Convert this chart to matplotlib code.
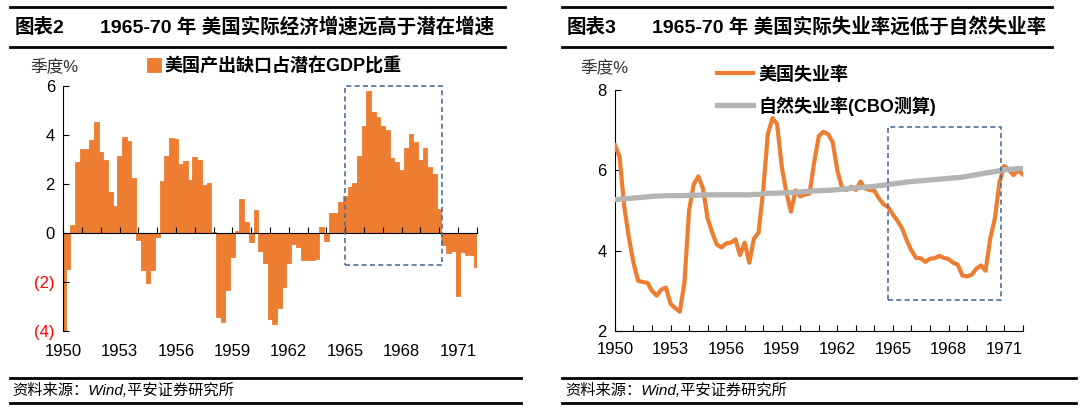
import numpy as np
import matplotlib.pyplot as plt
from matplotlib.lines import Line2D
from matplotlib.patches import Rectangle

plt.rcParams['font.family'] = ['Liberation Sans', 'Noto Sans CJK SC']

# quarterly, 1950Q1 .. 1972Q1
gap = [
    -4.0, -1.46, 0.31, 2.9,
    3.41, 3.41, 3.78, 4.5,
    3.3, 2.97, 1.67, 1.09,
    3.13, 3.92, 3.74, 2.24,
    -0.27, -1.52, -2.03, -1.52,
    -0.16, 2.12, 3.14, 3.88,
    3.81, 2.79, 2.93, 2.15,
    3.10, 2.97, 1.95, 2.05,
    0.03, -3.43, -3.65, -2.34,
    -0.98, 0.07, 1.40, 0.43,
    -0.38, 0.95, -0.72, -1.23,
    -3.5, -3.72, -3.06, -2.2,
    -1.22, -0.44, -0.57, -1.1,
    -1.12, -1.1, -1.08, 0.25,
    -0.34, 0.83, 0.83, 1.27,
    1.5, 1.88, 2.05, 3.13,
    4.37, 5.8, 4.94, 4.71,
    4.37, 4.19, 3.07, 2.9,
    2.58, 3.44, 4.05, 3.71,
    2.97, 3.47, 2.69, 2.39,
    0.99, -0.5, -0.82, -0.75,
    -2.58, -0.76, -0.91, -0.9,
    -1.41,
]

unemp = [
    6.63, 6.33, 5.1, 4.33,
    3.7, 3.25, 3.22, 3.2,
    3.0, 2.88, 3.03, 3.08,
    2.68, 2.57, 2.48, 3.2,
    5.0, 5.65, 5.85, 5.55,
    4.8, 4.45, 4.15, 4.08,
    4.18, 4.2, 4.28, 3.89,
    4.2, 3.7, 4.3, 4.45,
    5.5, 6.9, 7.3, 7.15,
    6.1, 5.45, 4.97, 5.5,
    5.35, 5.4, 5.42, 6.2,
    6.85, 6.96, 6.9, 6.7,
    6.0, 5.57, 5.51, 5.59,
    5.51, 5.72, 5.55, 5.51,
    5.49, 5.3, 5.15, 5.08,
    4.9, 4.74, 4.55, 4.25,
    4.0, 3.82, 3.81, 3.72,
    3.8, 3.81, 3.87, 3.82,
    3.79, 3.7, 3.65, 3.38,
    3.36, 3.4, 3.55, 3.63,
    3.5, 4.3, 4.8, 5.7,
    6.11, 6.02, 5.88, 6.0,
    5.9,
]

nairu = [
    5.27, 5.28, 5.29, 5.30,
    5.31, 5.32, 5.33, 5.34,
    5.35, 5.36, 5.36, 5.37,
    5.37, 5.37, 5.37, 5.37,
    5.38, 5.38, 5.38, 5.39,
    5.39, 5.39, 5.39, 5.39,
    5.39, 5.39, 5.39, 5.39,
    5.39, 5.39, 5.40, 5.40,
    5.42, 5.43, 5.43, 5.43,
    5.44, 5.44, 5.45, 5.45,
    5.46, 5.47, 5.48, 5.49,
    5.49, 5.50, 5.50, 5.51,
    5.52, 5.53, 5.54, 5.55,
    5.56, 5.57, 5.58, 5.59,
    5.60, 5.62, 5.63, 5.65,
    5.66, 5.68, 5.69, 5.71,
    5.72, 5.73, 5.74, 5.75,
    5.76, 5.77, 5.78, 5.79,
    5.80, 5.81, 5.82, 5.83,
    5.85, 5.87, 5.89, 5.91,
    5.93, 5.95, 5.97, 5.99,
    6.01, 6.02, 6.03, 6.04,
    6.05,
]

t = 1950 + np.arange(len(gap)) / 4
year_ticks = list(range(1950, 1973))
year_labels = [str(y) if (y - 1950) % 3 == 0 else '' for y in year_ticks]

orange = '#ED7D31'
grey = '#B4B4B4'
box_c = '#4F6E98'

fig = plt.figure(figsize=(10.8, 4.16), dpi=100)

# ---------- left: output gap ----------
ax1 = fig.add_axes([0.0586, 0.2043, 0.3828, 0.5897])
ax1.bar(t, gap, width=0.25, color=orange, ec=orange, lw=0.6, align='center',
        label='美国产出缺口占潜在GDP比重')
ax1.set_xlim(1950, 1972)
ax1.set_ylim(-4, 6)
for s in ['top', 'right']:
    ax1.spines[s].set_visible(False)
ax1.spines['bottom'].set_position(('data', 0))
ax1.set_xticks(year_ticks)
ax1.set_xticklabels(year_labels)
ax1.tick_params(axis='x', direction='in', length=4, pad=80, labelsize=12)
ax1.set_yticks([-4, -2, 0, 2, 4, 6])
ax1.set_yticklabels(['(4)', '(2)', '0', '2', '4', '6'])
ax1.tick_params(axis='y', direction='in', length=4, labelsize=12, pad=6)
for lab in ax1.get_yticklabels():
    if lab.get_text().startswith('('):
        lab.set_color('red')
ax1.add_patch(Rectangle((1965.0, -1.29), 5.15, 7.29, fill=False, ec=box_c,
                        ls=(0, (3, 2)), lw=1.2, clip_on=False, zorder=5))
ax1.legend(loc='center left', bbox_to_anchor=(0.121, 0.841), bbox_transform=fig.transFigure,
           frameon=False, handlelength=0.8, handleheight=0.8, handletextpad=0.15,
           prop={'size': 13, 'weight': 'bold'})

# ---------- right: unemployment ----------
ax2 = fig.add_axes([0.5694, 0.2043, 0.3775, 0.5794])
ax2.plot(t, unemp, color=orange, lw=3, label='美国失业率', zorder=3)
ax2.plot(t, nairu, color=grey, lw=3.8, label='自然失业率(CBO测算)', zorder=4)
ax2.set_xlim(1950, 1972)
ax2.set_ylim(2, 8)
for s in ['top', 'right']:
    ax2.spines[s].set_visible(False)
ax2.set_xticks(year_ticks)
ax2.set_xticklabels(year_labels)
ax2.tick_params(axis='x', direction='in', length=4, pad=8, labelsize=12)
ax2.set_yticks([2, 4, 6, 8])
ax2.tick_params(axis='y', direction='in', length=4, labelsize=12, pad=6)
ax2.add_patch(Rectangle((1964.72, 2.76), 6.11, 4.31, fill=False, ec=box_c,
                        ls=(0, (3, 2)), lw=1.2, zorder=5))
ax2.legend(loc='upper left', bbox_to_anchor=(0.649, 0.88), bbox_transform=fig.transFigure,
           frameon=False, handlelength=2.0, handletextpad=0.3, labelspacing=0.7,
           prop={'size': 13, 'weight': 'bold'})

# ---------- titles, units, sources ----------
for x0, x1 in [(0.0093, 0.468), (0.520, 0.974)]:
    fig.add_artist(Line2D([x0, x1], [0.982, 0.982], color='black', lw=2))
    fig.add_artist(Line2D([x0, x1], [0.886, 0.886], color='black', lw=2))
for x0, x1 in [(0.0093, 0.482), (0.520, 0.996)]:
    fig.add_artist(Line2D([x0, x1], [0.0913, 0.0913], color='black', lw=2))
    fig.add_artist(Line2D([x0, x1], [0.0313, 0.0313], color='black', lw=2))

fig.text(0.0139, 0.935, '图表2', fontsize=14, fontweight='bold', va='center')
fig.text(0.0926, 0.935, '1965-70 年 美国实际经济增速远高于潜在增速', fontsize=14,
         fontweight='bold', va='center')
fig.text(0.525, 0.935, '图表3', fontsize=14, fontweight='bold', va='center')
fig.text(0.6037, 0.935, '1965-70 年 美国实际失业率远低于自然失业率', fontsize=14,
         fontweight='bold', va='center')

fig.text(0.028, 0.841, '季度%', fontsize=12, color='#333333', va='center')
fig.text(0.537, 0.838, '季度%', fontsize=12, color='#333333', va='center')

fig.text(0.011, 0.0625, '资料来源：Wind,平安证券研究所', fontsize=11, style='italic', va='center')
fig.text(0.523, 0.0625, '资料来源：Wind,平安证券研究所', fontsize=11, style='italic', va='center')

fig.savefig('out.png', dpi=100)
